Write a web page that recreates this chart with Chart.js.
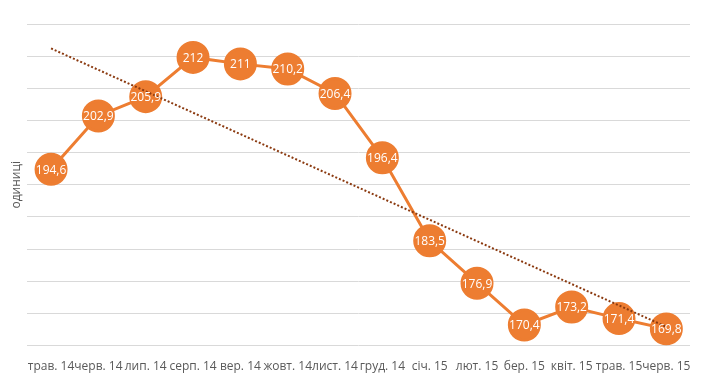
<!DOCTYPE html>
<html><head><meta charset="utf-8">
<script src="https://cdn.jsdelivr.net/npm/chart.js@4/dist/chart.umd.min.js"></script>
<style>html,body{margin:0;padding:0;background:#fff}#wrap{width:708px;height:386px}</style>
</head><body><div id="wrap"><canvas id="c" width="708" height="386"></canvas></div>
<script>
const categories = ["трав. 14","черв. 14","лип. 14","серп. 14","вер. 14","жовт. 14","лист. 14","груд. 14","січ. 15","лют. 15","бер. 15","квіт. 15","трав. 15","черв. 15"];
const values = [194.6,202.9,205.9,212,211,210.2,206.4,196.4,183.5,176.9,170.4,173.2,171.4,169.8];
const yAxisTitle = "одиниці";

// linear trendline (least squares) from the series
const n = values.length;
let sx=0, sy=0, sxy=0, sxx=0;
values.forEach((v,i)=>{sx+=i;sy+=v;sxy+=i*v;sxx+=i*i;});
const slope=(n*sxy-sx*sy)/(n*sxx-sx*sx);
const icpt=(sy-slope*sx)/n;
const trend = values.map((v,i)=>icpt+slope*i);

const yMin = 167.2, yMax = 217.2, yStep = 5;

const labelPlugin = {
  id:'lbl',
  afterDatasetsDraw(chart){
    const ctx=chart.ctx;
    const meta=chart.getDatasetMeta(1);
    ctx.save();
    ctx.font='12px "Open Sans", "Liberation Sans", sans-serif';
    ctx.fillStyle='#ffffff';
    ctx.textAlign='center';
    ctx.textBaseline='middle';
    meta.data.forEach((pt,i)=>{
      ctx.fillText(String(values[i]).replace('.',','), pt.x, pt.y+1);
    });
    ctx.restore();
  }
};

new Chart(document.getElementById('c'),{
  type:'line',
  data:{labels:categories,datasets:[
    {data:trend,borderColor:'#8B3A10',borderWidth:2,borderDash:[2,2],pointRadius:0,fill:false,order:0,tension:0},
    {data:values,borderColor:'#ED7D31',borderWidth:3,backgroundColor:'#ED7D31',pointBackgroundColor:'#ED7D31',pointBorderColor:'#ED7D31',pointRadius:15,pointHoverRadius:15,fill:false,order:1,tension:0}
  ]},
  options:{
    responsive:false,animation:false,
    layout:{padding:{top:24,right:12,left:5,bottom:6}},
    plugins:{legend:{display:false},tooltip:{enabled:false}},
    scales:{
      x:{offset:true,grid:{display:false},border:{display:false},
         ticks:{color:'#595959',font:{size:12,family:'"Open Sans", "Liberation Sans", sans-serif'},maxRotation:0,autoSkip:false,padding:6}},
      y:{min:yMin,max:yMax,
         afterBuildTicks(s){const t=[];for(let v=yMin;v<=yMax+1e-6;v+=yStep)t.push({value:v});s.ticks=t;},
         grid:{color:'#d9d9d9',drawTicks:false},border:{display:false},
         ticks:{display:false},
         title:{display:true,text:yAxisTitle,color:'#595959',font:{size:12,family:'"Open Sans", "Liberation Sans", sans-serif'},padding:{top:4,bottom:4}}}
    }
  },
  plugins:[labelPlugin]
});
</script></body></html>
